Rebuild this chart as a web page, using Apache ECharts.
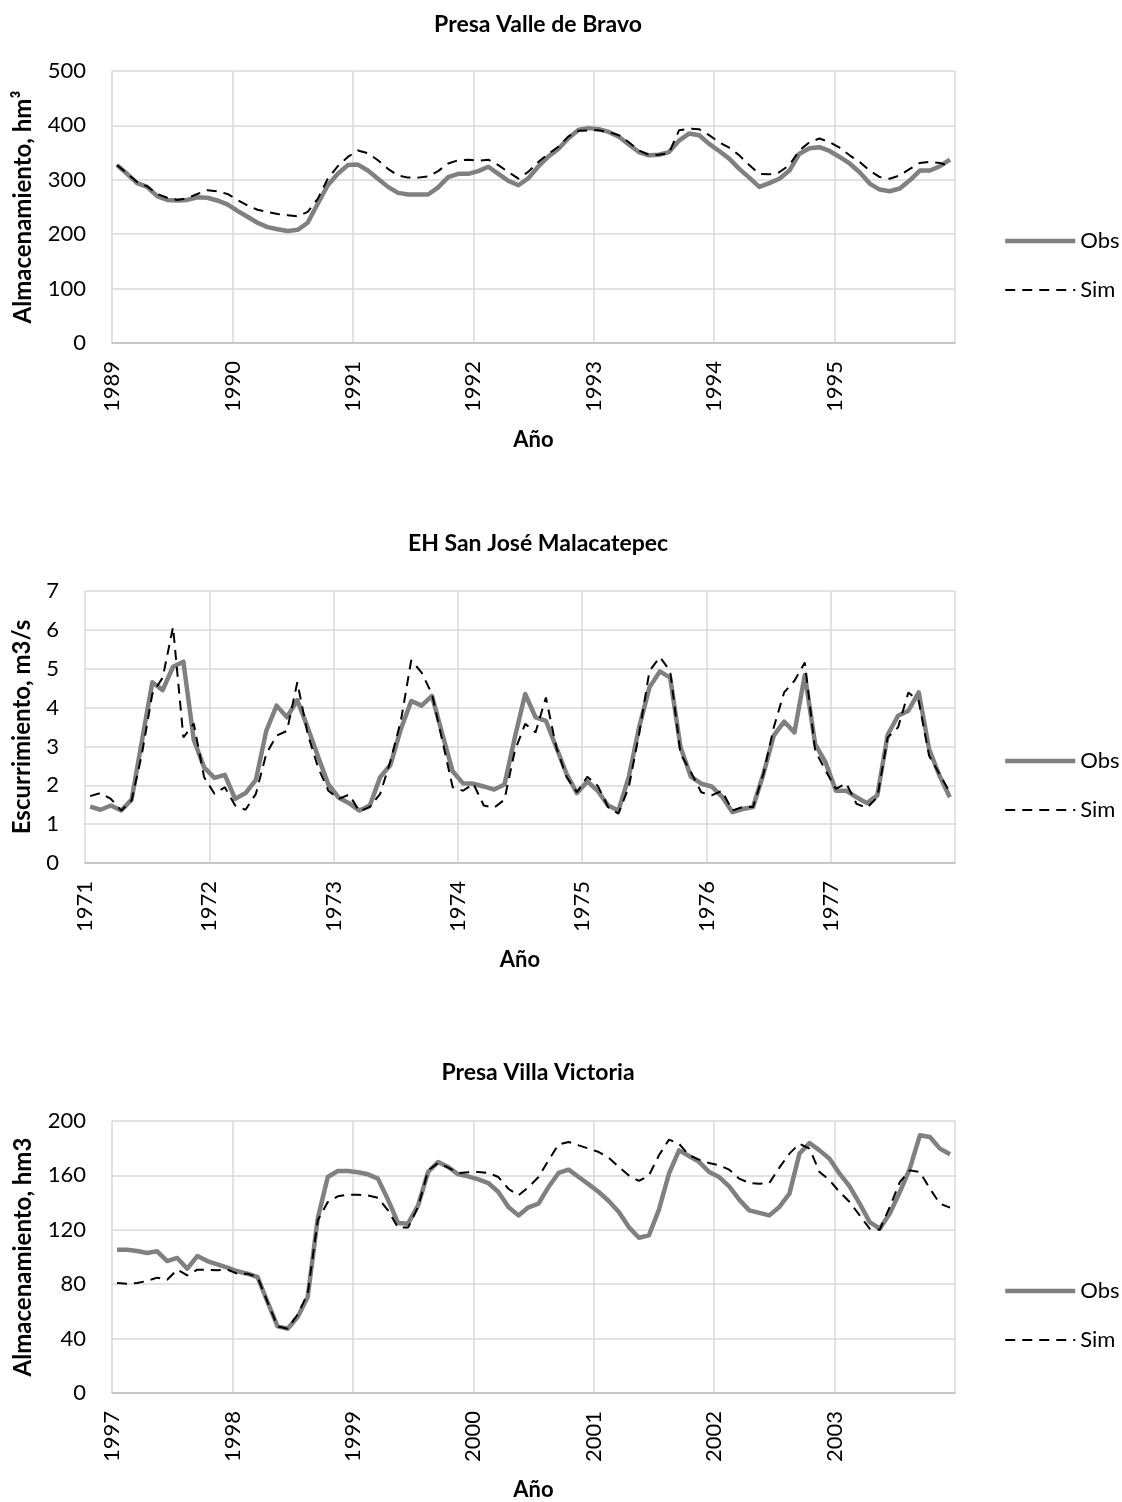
<!DOCTYPE html>
<html>
<head>
<meta charset="utf-8">
<script src="https://cdn.jsdelivr.net/npm/echarts@6/dist/echarts.min.js"></script>
<style>
html,body{margin:0;padding:0;background:#fff;}
#chart{width:1122px;height:1502px;}
</style>
</head>
<body>
<div id="chart"></div>
<script>
// ---- Data ----
const years1 = ['1989','1990','1991','1992','1993','1994','1995'];
const years2 = ['1971','1972','1973','1974','1975','1976','1977'];
const years3 = ['1997','1998','1999','2000','2001','2002','2003'];

const obs1 = [327,311,294,287,270,263,262,263,268,267,262,255,
243,232,221,213,209,206,208,221,256,290,311,327,
328,317,302,287,276,273,273,273,286,305,311,311,
316,324,311,298,290,303,325,343,357,377,392,395,
393,388,379,365,351,345,346,351,372,385,382,366,
353,339,320,304,287,294,302,317,348,358,360,353,
342,330,314,293,282,279,284,299,317,317,325,337];
const sim1 = [327,312,296,288,274,267,263,266,274,281,279,274,
263,253,245,241,237,235,233,241,265,302,325,342,
354,349,336,320,308,304,304,306,316,330,336,337,
335,337,327,314,302,315,333,348,361,380,390,391,
391,388,382,369,354,346,346,349,391,394,393,382,
369,359,345,327,311,310,314,327,354,369,376,369,
359,345,333,317,305,302,308,320,331,333,331,324];

const obs2 = [1.45,1.37,1.48,1.35,1.63,3.15,4.65,4.45,5.05,5.18,3.17,2.46,
2.19,2.27,1.65,1.80,2.14,3.40,4.05,3.75,4.19,3.49,2.74,2.02,
1.68,1.54,1.35,1.48,2.21,2.53,3.45,4.17,4.05,4.30,3.32,2.36,
2.05,2.04,1.97,1.89,2.02,3.23,4.35,3.75,3.66,2.98,2.29,1.80,
2.10,1.86,1.48,1.35,2.21,3.49,4.52,4.93,4.77,2.98,2.22,2.04,
1.97,1.71,1.31,1.39,1.44,2.29,3.28,3.64,3.36,4.84,3.06,2.59,
1.86,1.86,1.69,1.54,1.74,3.30,3.79,3.92,4.39,2.93,2.25,1.69];
const sim2 = [1.72,1.80,1.65,1.35,1.61,2.81,4.35,4.77,6.07,3.23,3.59,2.21,
1.78,1.95,1.48,1.37,1.78,2.81,3.28,3.40,4.65,3.32,2.46,1.86,
1.65,1.76,1.33,1.44,1.78,2.63,3.66,5.22,4.90,4.35,3.15,1.95,
1.86,2.04,1.48,1.42,1.63,2.89,3.58,3.36,4.26,2.98,2.21,1.82,
2.22,1.99,1.44,1.27,1.95,3.32,4.94,5.30,4.94,2.81,2.34,1.82,
1.74,1.86,1.35,1.44,1.44,2.29,3.49,4.39,4.69,5.16,2.89,2.38,
1.91,2.05,1.52,1.42,1.69,3.23,3.49,4.39,4.17,2.76,2.29,1.82];

const obs3 = [105.4,105.4,104.4,103,104.2,97,99.3,91.4,100.7,97,94.6,92.2,
89.5,87.7,85.3,66.9,49,47.3,55.9,70.6,128.2,158.8,163.2,163.2,
162.3,160.8,157.6,142.2,125,124.5,138,162.5,169.9,166.2,160.8,159.3,
157.1,154.4,147.8,136.8,130.6,136.5,139.2,151.5,161.8,164.2,158.8,153.4,
147.8,141.2,133.1,122,114.2,115.9,134.8,161.3,178.4,174.3,169.9,162.5,
158.8,152,142.2,134.3,132.4,130.6,136.8,146.6,176,183.8,178.4,172.3,
161.3,152,139.2,125.7,120.8,131.9,147.8,165,189.5,188.2,179.7,175.5];
const sim3 = [80.9,80.4,80.9,82.4,84.8,83.3,90.7,86.5,90.7,90.7,90.2,90.7,
87.7,87.7,85.3,66.9,49,47.3,57.8,73,127,140.4,144.6,145.8,
145.8,145.3,143.6,134.3,121.6,121.6,136.8,163.7,169.1,165.7,161.8,162.3,
162.5,161.8,158.8,150.2,145.3,151.3,158.8,171.1,182.8,184.6,182.1,179.7,
177.2,173,166.2,160,155.9,160,174.8,186.3,183.3,174.8,171.6,169.1,
167.4,164.2,157.6,154.4,153.9,154.4,165.7,176,183.3,179.7,162.5,156.4,
147.8,140.4,130.6,120.8,120.1,136.8,155.1,163.7,162.5,150.2,139.2,136.3];

const titles = ['Presa Valle de Bravo','EH San José Malacatepec','Presa Villa Victoria'];
const yNames = ['Almacenamiento, hm³','Escurrimiento, m3/s','Almacenamiento, hm3'];
const xName = 'Año';
const seriesNames = ['Obs','Sim'];

// ---- Build ----
const FONT = 'Lato';
const panels = [
  {top:71, left:112, years:years1, obs:obs1, sim:sim1, max:500, interval:100, nameGap:77, titleTop:8},
  {top:591, left:85, years:years2, obs:obs2, sim:sim2, max:7, interval:1, nameGap:51, titleTop:527},
  {top:1121, left:112, years:years3, obs:obs3, sim:sim3, max:200, interval:40, nameGap:77, titleTop:1056}
];
const toPts = arr => arr.map((v,i)=>[i+0.5, v]);

const option = {
  animation:false,
  backgroundColor:'#fff',
  title:[], legend:[], grid:[], xAxis:[], yAxis:[], series:[]
};

panels.forEach((p,k)=>{
  option.title.push({
    text:titles[k], left:533, top:p.titleTop, textAlign:'center',
    textStyle:{fontFamily:FONT, fontWeight:'bold', fontSize:23, color:'#000'}
  });
  option.grid.push({left:p.left, top:p.top, width:955-p.left, height:272, containLabel:false});
  option.xAxis.push({
    type:'value', gridIndex:k, min:0, max:84, interval:12,
    axisLine:{show:true, lineStyle:{color:'#bfbfbf', width:1.5}},
    axisTick:{show:false},
    splitLine:{show:true, lineStyle:{color:'#d9d9d9', width:1.5}},
    axisLabel:{
      rotate:90, margin:18, fontFamily:FONT, fontSize:22, color:'#000',
      padding:[12,0,0,0],
      formatter:v => (v/12 < p.years.length ? p.years[v/12] : '')
    },
    name:xName, nameLocation:'middle', nameGap:86,
    nameTextStyle:{fontFamily:FONT, fontWeight:'bold', fontSize:22, color:'#000'}
  });
  option.yAxis.push({
    type:'value', gridIndex:k, min:0, max:p.max, interval:p.interval,
    axisLine:{show:false}, axisTick:{show:false},
    splitLine:{show:true, lineStyle:{color:'#d9d9d9', width:1.5}},
    axisLabel:{margin:26, fontFamily:FONT, fontSize:22, color:'#000'},
    name:yNames[k], nameLocation:'middle', nameGap:p.nameGap, nameRotate:90,
    nameTextStyle:{fontFamily:FONT, fontWeight:'bold', fontSize:24, color:'#000'}
  });
  option.series.push({
    name:seriesNames[0], type:'line', xAxisIndex:k, yAxisIndex:k,
    data:toPts(p.obs), symbol:'none', smooth:false,
    lineStyle:{color:'#808080', width:4.5, join:'round'}, itemStyle:{color:'#808080'}
  });
  option.series.push({
    name:seriesNames[1], type:'line', xAxisIndex:k, yAxisIndex:k,
    data:toPts(p.sim), symbol:'none', smooth:false,
    lineStyle:{color:'#000', width:2, type:[10,7]}, itemStyle:{color:'#000'}
  });
  option.legend.push({
    orient:'vertical', left:998, top:p.top+154, itemWidth:70, itemHeight:14, itemGap:27,
    data:seriesNames.map(n=>({name:n})),
    itemStyle:{color:'rgba(0,0,0,0)', borderColor:'rgba(0,0,0,0)', borderWidth:0, opacity:0},
    lineStyle:{width:'inherit', type:'inherit', color:'inherit'},
    textStyle:{fontFamily:FONT, fontSize:22, color:'#000'},
    selectedMode:false
  });
});

const chart = echarts.init(document.getElementById('chart'), null, {renderer:'canvas'});
chart.setOption(option);
</script>
</body>
</html>
